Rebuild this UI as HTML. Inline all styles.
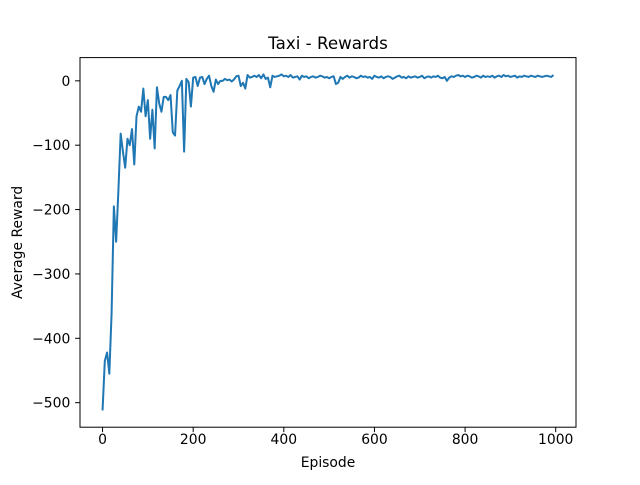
<!DOCTYPE html>
<html><head><meta charset="utf-8"><style>
body{margin:0;background:#fff;}
svg text{font-family:"DejaVu Sans","Liberation Sans",sans-serif;fill:#000;}
</style></head><body>
<svg id="chart" width="640" height="480"></svg>
<script>
const episodeStep = 5;
const rewards = [
-512,-435,-422,-455,-360,-195,-250,-170,-82,-110,
-135,-90,-100,-75,-130,-55,-40,-48,-12,-55,
-30,-90,-45,-105,-10,-35,-48,-25,-25,-30,
-22,-80,-85,-15,-8,0,-110,3,-2,-40,
5,6,-8,5,6,-5,3,8,-8,-17,
2,-5,0,0,3,1,2,-1,2,7,
8,-8,-3,-12,9,5,6,8,6,9,
4,10,3,5,-10,8,6,7,8,10,
7,8,6,9,5,6,7,2,8,6,
7,4,6,7,5,6,8,7,5,6,
4,6,7,-5,-3,6,3,6,8,5,
7,6,4,5,8,6,7,5,6,3,
8,6,5,7,4,6,7,6,3,5,
7,8,5,6,4,7,5,6,7,5,
6,8,4,6,7,5,7,6,8,5,
4,6,0,5,7,6,8,9,7,8,
6,8,7,5,6,8,7,5,8,6,
7,6,8,5,7,8,6,9,7,8,
6,7,8,5,7,6,8,7,6,8,
7,6,8,7,6,7,8,7,6,9];
const xTicks = [0,200,400,600,800,1000];
const yTicks = [-500,-400,-300,-200,-100,0];

const svg = document.getElementById('chart');
const NS = 'http://www.w3.org/2000/svg';
const L=80,R=576,T=57.6,B=427.2;
const n = rewards.length;
const xmax=(n-1)*episodeStep, xpad=xmax*0.05;
const ymin=Math.min(...rewards), ymax=Math.max(...rewards), ypad=(ymax-ymin)*0.05;
const X=v=>L+(v+xpad)/(xmax+2*xpad)*(R-L);
const Y=v=>B-(v-(ymin-ypad))/((ymax-ymin)+2*ypad)*(B-T);
function el(tag,attrs,txt){const e=document.createElementNS(NS,tag);for(const k in attrs)e.setAttribute(k,attrs[k]);if(txt!=null)e.textContent=txt;svg.appendChild(e);return e;}

let d='';
rewards.forEach((v,i)=>{d+=(i?'L':'M')+X(i*episodeStep).toFixed(2)+','+Y(v).toFixed(2);});
const line=el('path',{d:d,fill:'none',stroke:'#1f77b4','stroke-width':2,'stroke-linejoin':'round'});



const frame=el('rect',{x:L,y:T,width:R-L,height:B-T,fill:'none',stroke:'#000','stroke-width':1});



xTicks.forEach(t=>{
  const x=X(t);
  const tk=el('line',{x1:x,x2:x,y1:B,y2:B+4.9,stroke:'#000','stroke-width':1});
  
  
  const lb=el('text',{x:x,y:B+17,'font-size':13.9,'text-anchor':'middle'},String(t));
  
  
});
yTicks.forEach(t=>{
  const y=Y(t);
  const tk=el('line',{x1:L-4.9,x2:L,y1:y,y2:y,stroke:'#000','stroke-width':1});
  
  
  const lb=el('text',{x:L-9.7,y:y+5,'font-size':13.9,'text-anchor':'end'},t<0?'\u2212'+(-t):String(t));
  
  
});
const title=el('text',{x:(L+R)/2,y:49,'font-size':16.7,'text-anchor':'middle'},'Taxi - Rewards');


const xl=el('text',{x:(L+R)/2,y:467,'font-size':13.9,'text-anchor':'middle'},'Episode');


const yl=el('text',{x:0,y:0,'font-size':13.9,'text-anchor':'middle',transform:'translate(22,'+((T+B)/2)+') rotate(-90)'},'Average Reward');


</script>
</body></html>
